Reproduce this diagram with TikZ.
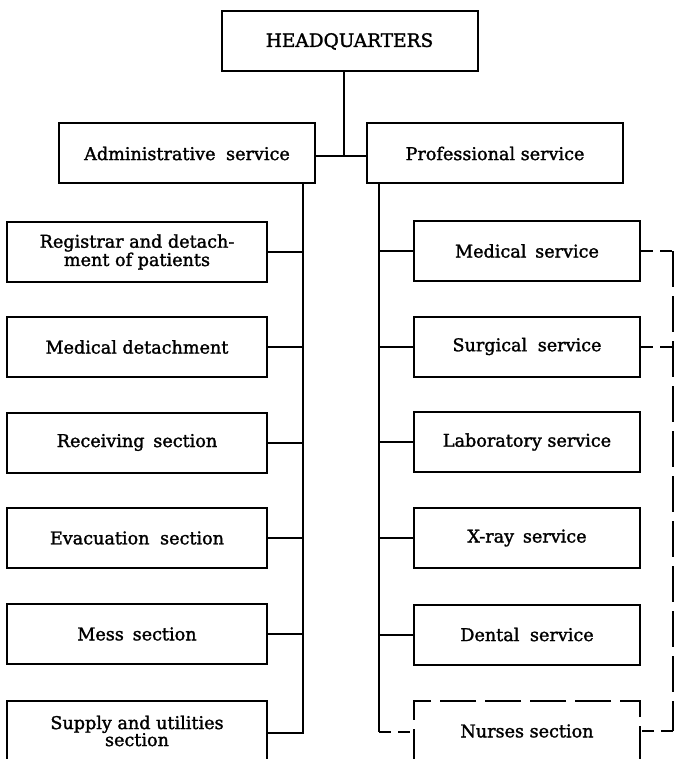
\documentclass[tikz,border=0pt]{standalone}
\usepackage{fontspec}
\setmainfont{DejaVu Serif}[FakeBold=1.6]
\begin{document}
\begin{tikzpicture}[x=1pt,y=-1pt,
  box/.style={draw, line width=2pt, inner sep=0pt, align=center,
    minimum height=60pt, font=\fontsize{17.6}{17}\selectfont},
  topbox/.style={box, minimum width=256pt},
  lbox/.style={box, minimum width=260pt},
  rbox/.style={box, minimum width=226pt},
  conn/.style={line width=2pt},
  longdash/.style={line width=2pt, dash pattern=on 36pt off 9pt},
  shortdash/.style={line width=2pt, dash pattern=on 12pt off 7pt}]
\useasboundingbox (0,0) rectangle (676,759);
% top level
\node[topbox] (hq) at (349.5,41.5) {\fontsize{18.5}{18}\selectfont HEADQUARTERS};
\node[topbox] (adm) at (187,153.5) {Administrative\hspace{0.6em}service};
\node[topbox] (pro) at (495,153.5) {Professional service};
% left column
\node[lbox] (reg) at (137,252) {Registrar and detach-\\ment of patients};
\node[lbox] (mdet) at (137,347) {Medical detachment};
\node[lbox] (rec) at (137,442.5) {Receiving\hspace{0.5em}section};
\node[lbox] (eva) at (137,538) {Evacuation\hspace{0.6em}section};
\node[lbox] (mess) at (137,634) {Mess\hspace{0.5em}section};
\node[lbox] (sup) at (137,731) {Supply and utilities\\section};
% right column
\node[rbox] (med) at (527,251) {Medical\hspace{0.5em}service};
\node[rbox] (sur) at (527,346.5) {Surgical\hspace{0.6em}service};
\node[rbox] (lab) at (527,442) {Laboratory service};
\node[rbox] (xr) at (527,538) {X-ray\hspace{0.5em}service};
\node[rbox] (den) at (527,634.5) {Dental\hspace{0.6em}service};
\node[rbox, longdash] (nur) at (527,731) {Nurses section};
% junctions
\coordinate (hqj) at (344,156);
\coordinate (abus) at (303,733);
\coordinate (pbus) at (379,732);
\coordinate (rbus) at (673,731);
% HQ connectors
\draw[conn] (hqj |- hq.south) -- (hqj);
\draw[conn] (adm.east |- hqj) -- (pro.west |- hqj);
% administrative bus
\draw[conn] (abus |- adm.south) -- (abus) -- (sup.east |- abus);
\foreach \n in {reg,mdet,rec,eva,mess}
  \draw[conn] (\n.east) -- (\n.east -| abus);
% professional bus
\draw[conn] (pbus |- pro.south) -- (pbus);
\draw[shortdash] (pbus) -- (pbus -| nur.west);
\foreach \n in {med,sur,lab,xr,den}
  \draw[conn] (pbus |- \n.west) -- (\n.west);
% dashed coordination line
\draw[shortdash] (med.east) -- (med.east -| rbus);
\draw[shortdash] (sur.east) -- (sur.east -| rbus);
\draw[longdash] (med.east -| rbus) -- (rbus);
\draw[shortdash] (rbus) -- (nur.east |- rbus);
\end{tikzpicture}
\end{document}
